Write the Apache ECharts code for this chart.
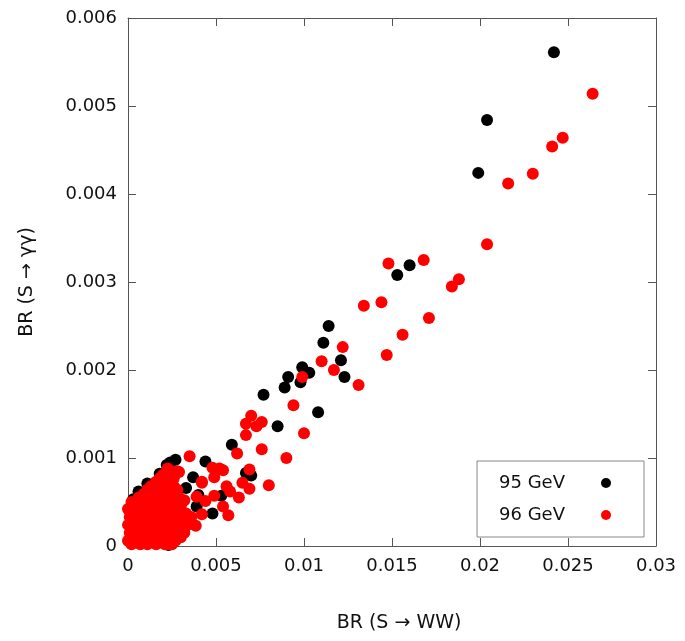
<!DOCTYPE html>
<html>
<head>
<meta charset="utf-8">
<script src="https://cdn.jsdelivr.net/npm/echarts@6/dist/echarts.min.js"></script>
<style>
  html, body { margin: 0; padding: 0; background: #fff; }
  #chart { width: 685px; height: 641px; }
</style>
</head>
<body>
<div id="chart"></div>
<script>
// BR(S -> WW) , BR(S -> gamma gamma)
var seriesNames = ['95 GeV', '96 GeV'];

var black95 = [
  [0.0242, 0.00561], [0.0204, 0.00484], [0.0199, 0.00424], [0.0160, 0.00319], [0.0153, 0.00308],
  [0.0114, 0.00250], [0.0111, 0.00231], [0.0121, 0.00211], [0.0123, 0.00192], [0.0108, 0.00152],
  [0.0099, 0.00203], [0.0103, 0.00197], [0.0091, 0.00192], [0.0098, 0.00186], [0.0089, 0.00180],
  [0.0077, 0.00172], [0.0085, 0.00136], [0.0059, 0.00115], [0.0044, 0.00096], [0.0070, 0.00080],
  [0.0067, 0.00083], [0.0037, 0.00078], [0.0033, 0.00066], [0.0053, 0.00057], [0.0039, 0.00045],
  [0.0048, 0.00037], [0.0027, 0.00098], [0.0022, 0.00092], [0.0034, 0.00025], [0.0015, 0.00071],
  [0.0011, 0.00071], [0.00085, 0.00060], [0.0006, 0.00062], [0.0003, 0.00053], [0.0018, 0.00082],
  [0.0024, 0.00095], [0.0040, 0.00058], [0.0016, 0.00003], [0.0023, 0.00001]
];

var red96 = [
  [0.0264, 0.00514], [0.0247, 0.00464], [0.0241, 0.00454], [0.0230, 0.00423], [0.0216, 0.00412],
  [0.0204, 0.00343], [0.0188, 0.00303], [0.0184, 0.00295], [0.0168, 0.00325], [0.0148, 0.00321],
  [0.0144, 0.00277], [0.0134, 0.00273], [0.0171, 0.00259], [0.0156, 0.00240], [0.0147, 0.00217],
  [0.0122, 0.00226], [0.0110, 0.00210], [0.0117, 0.00200], [0.0131, 0.00183], [0.0099, 0.00192],
  [0.0094, 0.00160], [0.0100, 0.00128], [0.0070, 0.00148], [0.0067, 0.00139], [0.0076, 0.00141],
  [0.0073, 0.00136], [0.0067, 0.00126], [0.0062, 0.00105], [0.0076, 0.00110], [0.0090, 0.00100],
  [0.0035, 0.00102], [0.0048, 0.00089], [0.0052, 0.00088], [0.0069, 0.00087], [0.0049, 0.00078],
  [0.0065, 0.00072], [0.0080, 0.00069], [0.0042, 0.00072], [0.0056, 0.00068], [0.0058, 0.00062],
  [0.0069, 0.00065], [0.0049, 0.00057], [0.0063, 0.00055], [0.0039, 0.00056], [0.0032, 0.00052],
  [0.0054, 0.00045], [0.0057, 0.00035], [0.0042, 0.00036], [0.0044, 0.00051], [0.0025, 0.00085],
  [0.0029, 0.00084], [0.0042, 0.00073], [0.0027, 0.00062], [0.00225, 0.00088], [0.0054, 0.00086],
  [0.00385, 0.00023], [0.0030, 0.00016], [0.0023, 0.00002]
];

// the dense lump near the origin
var red96Core = [
  [0, 0.00006], [0.00045, 0.00006], [0.0009, 0.00006], [0.0014, 0.00006], [0.0018, 0.00006], [0.0023, 0.00006], [0.0027, 0.00006],
  [0.0002, 0.00002], [0.0007, 0.00002], [0.0011, 0.00002], [0.0016, 0.00002], [0.0021, 0.00002], [0.0025, 0.00002],
  [0.0003, 0.00010], [0.0007, 0.00010], [0.0012, 0.00010], [0.0016, 0.00010], [0.0021, 0.00010], [0.0026, 0.00010], [0.0030, 0.00010],
  [0.0001, 0.00015], [0.0005, 0.00015], [0.0009, 0.00015], [0.0014, 0.00015], [0.0019, 0.00015], [0.0023, 0.00015], [0.0028, 0.00015], [0.0032, 0.00015],
  [0.0003, 0.00020], [0.0008, 0.00020], [0.0012, 0.00020], [0.0017, 0.00020], [0.0022, 0.00020], [0.0027, 0.00020], [0.0032, 0.00020],
  [0, 0.00024], [0.0006, 0.00024], [0.0010, 0.00024], [0.0015, 0.00024], [0.0020, 0.00024], [0.0025, 0.00024], [0.0030, 0.00024], [0.0034, 0.00024],
  [0.0003, 0.00028], [0.0008, 0.00028], [0.0013, 0.00028], [0.0018, 0.00028], [0.0023, 0.00028], [0.0028, 0.00028], [0.0033, 0.00028],
  [0.0001, 0.00033], [0.0005, 0.00033], [0.0010, 0.00033], [0.0015, 0.00033], [0.0020, 0.00033], [0.0026, 0.00033], [0.0031, 0.00033], [0.0036, 0.00033],
  [0.0003, 0.00037], [0.0008, 0.00037], [0.0013, 0.00037], [0.0018, 0.00037], [0.0023, 0.00037], [0.0028, 0.00037], [0.0033, 0.00037],
  [0, 0.00042], [0.0006, 0.00042], [0.0011, 0.00042], [0.0016, 0.00042], [0.0021, 0.00042], [0.0026, 0.00042], [0.0030, 0.00042],
  [0.0004, 0.00046], [0.0009, 0.00046], [0.0014, 0.00046], [0.0019, 0.00046], [0.0024, 0.00046], [0.0029, 0.00046],
  [0.0002, 0.00050], [0.0007, 0.00050], [0.0012, 0.00050], [0.0017, 0.00050], [0.0022, 0.00050], [0.0027, 0.00050], [0.0031, 0.00050],
  [0.0006, 0.00055], [0.0011, 0.00055], [0.0015, 0.00055], [0.0020, 0.00055], [0.0025, 0.00055], [0.0029, 0.00055],
  [0.0009, 0.00059], [0.0013, 0.00059], [0.0018, 0.00059], [0.0022, 0.00059], [0.0027, 0.00059],
  [0.0011, 0.00064], [0.0015, 0.00064], [0.0019, 0.00064], [0.0024, 0.00064], [0.0028, 0.00064],
  [0.0013, 0.00068], [0.0017, 0.00068], [0.0021, 0.00068], [0.0026, 0.00068],
  [0.0016, 0.00073], [0.0020, 0.00073], [0.0024, 0.00073],
  [0.0018, 0.00077], [0.0022, 0.00077], [0.0026, 0.00077],
  [0.0020, 0.00081], [0.0025, 0.00081],
  [0.0023, 0.00085], [0.0028, 0.00085]
];

var xMin = 0, xMax = 0.03, xStep = 0.005;
var yMin = 0, yMax = 0.006, yStep = 0.001;

var fontName = 'DejaVu Sans';
var axisColor = '#555';

function tickLabel(v) {
  return String(+v.toFixed(4));
}

var chart = echarts.init(document.getElementById('chart'));

function frameAxis(pos, min, max, step, isMain, extra) {
  var a = {
    type: 'value',
    position: pos,
    min: min,
    max: max,
    interval: step,
    splitLine: { show: false },
    axisLine: { show: true, onZero: false, lineStyle: { color: axisColor, width: 1 } },
    axisTick: { show: true, inside: true, length: 8, lineStyle: { color: axisColor } },
    axisLabel: {
      show: isMain,
      formatter: tickLabel,
      color: '#111',
      fontFamily: fontName,
      fontSize: 18,
      margin: 11,
      showMinLabel: true,
      showMaxLabel: true
    }
  };
  return Object.assign(a, extra || {});
}

var option = {
  animation: false,
  backgroundColor: '#fff',
  grid: { left: 128, right: 29, top: 18, bottom: 95 },
  xAxis: [
    frameAxis('bottom', xMin, xMax, xStep, true, {
      name: 'BR (S \u2192 WW)',
      nameLocation: 'middle',
      nameGap: 68,
      nameTextStyle: { fontFamily: fontName, fontSize: 19, color: '#111', padding: [0, 0, 0, 14] }
    }),
    frameAxis('top', xMin, xMax, xStep, false)
  ],
  yAxis: [
    frameAxis('left', yMin, yMax, yStep, true, {
      name: 'BR (S \u2192 \u03b3\u03b3)',
      nameLocation: 'middle',
      nameGap: 91,
      nameTextStyle: { fontFamily: fontName, fontSize: 19, color: '#111' }
    }),
    frameAxis('right', yMin, yMax, yStep, false)
  ],
  legend: {
    orient: 'vertical',
    right: 41,
    bottom: 104,
    align: 'right',
    icon: 'circle',
    itemWidth: 10,
    itemHeight: 10,
    itemGap: 12,
    padding: [12, 33, 12, 22],
    borderColor: '#888',
    borderWidth: 1,
    backgroundColor: '#fff',
    textStyle: { fontFamily: fontName, fontSize: 18, color: '#111', lineHeight: 20, padding: [0, 31, 0, 0] },
    data: seriesNames
  },
  series: [
    {
      name: seriesNames[0],
      type: 'scatter',
      symbol: 'circle',
      symbolSize: 12,
      itemStyle: { color: '#000', opacity: 1 },
      data: black95
    },
    {
      name: seriesNames[1],
      type: 'scatter',
      symbol: 'circle',
      symbolSize: 12,
      itemStyle: { color: '#ff0000', opacity: 1 },
      data: red96.concat(red96Core)
    }
  ]
};

chart.setOption(option);
</script>
</body>
</html>
